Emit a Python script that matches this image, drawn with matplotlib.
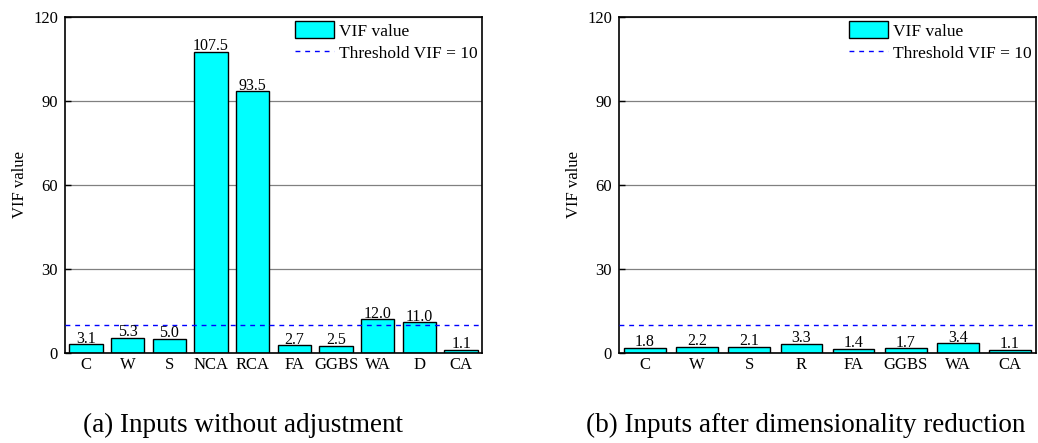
import matplotlib
matplotlib.use("Agg")
import matplotlib.pyplot as plt

plt.rcParams['font.family'] = ['Liberation Serif', 'DejaVu Serif']
plt.rcParams['mathtext.fontset'] = 'stix'

cats_a = ["C", "W", "S", "NCA", "RCA", "FA", "GGBS", "WA", "D", "CA"]
vals_a = [3.1, 5.3, 5.0, 107.5, 93.5, 2.7, 2.5, 12.0, 11.0, 1.1]
cats_b = ["C", "W", "S", "R", "FA", "GGBS", "WA", "CA"]
vals_b = [1.8, 2.2, 2.1, 3.3, 1.4, 1.7, 3.4, 1.1]
yticks = [0, 30, 60, 90, 120]
threshold = 10
captions = ["(a) Inputs without adjustment", "(b) Inputs after dimensionality reduction"]

W, H = 1038, 443
fig = plt.figure(figsize=(W / 100, H / 100), dpi=100)

def px_axes(x0, y0, x1, y1):
    return fig.add_axes([x0 / W, 1 - y1 / H, (x1 - x0) / W, (y1 - y0) / H])

axes = [px_axes(65, 17, 482, 353), px_axes(619, 17, 1036, 353)]
data = [(cats_a, vals_a), (cats_b, vals_b)]
cap_centers = [243, 806]

for ax, (cats, vals), cap, cx in zip(axes, data, captions, cap_centers):
    x = range(len(cats))
    ax.set_axisbelow(True)
    ax.yaxis.grid(True, color='#808080', linewidth=0.9)
    bars = ax.bar(x, vals, width=0.8, color='#00FFFF', edgecolor='black',
                  linewidth=1.0, label='VIF value', zorder=2)
    line = ax.axhline(threshold, color='blue', linestyle=(0, (3.5, 3.5)), linewidth=1.0,
                      label='Threshold VIF = 10', zorder=3)
    for xi, v in zip(x, vals):
        ax.text(xi, v + 0.6, f"{v:.1f}", ha='center', va='baseline', fontsize=11.5, zorder=4)
    ax.set_xlim(-0.5, len(cats) - 0.5)
    ax.set_ylim(0, 120)
    ax.set_yticks(yticks)
    ax.set_xticks(list(x))
    ax.set_xticklabels(cats)
    ax.tick_params(axis='both', labelsize=12, length=4.5, width=1.0, direction='in', pad=5)
    ax.tick_params(axis='x', length=0, pad=3)
    ax.set_ylabel("VIF value", fontsize=12, labelpad=4)
    for s in ax.spines.values():
        s.set_linewidth(1.2)
    ax.legend(handles=[bars, line], loc='upper right', frameon=False, fontsize=12.5,
              handlelength=2.25, handleheight=1.1, handletextpad=0.3, borderaxespad=0.1,
              borderpad=0.15, labelspacing=0.25)
    fig.text(cx / W, 1 - 425 / H, cap, ha='center', va='center', fontsize=19.5)

fig.savefig("out.png", dpi=100)
